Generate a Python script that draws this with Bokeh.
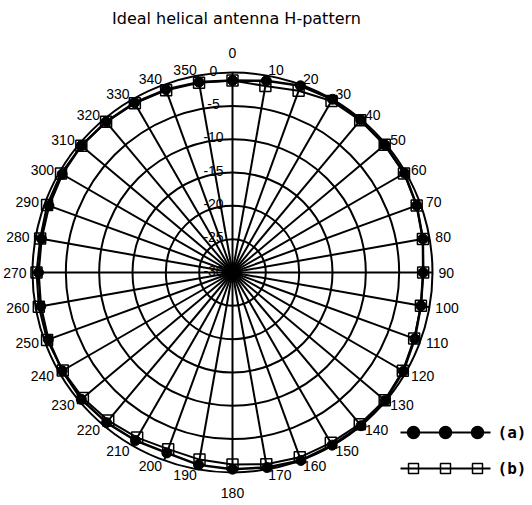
import numpy as np
from bokeh.plotting import figure
from bokeh.models import Range1d
from bokeh.core.properties import value
from bokeh.embed import file_html
from bokeh.resources import INLINE

# ---- data ----
angles = list(range(0, 360, 10))
series_a = [-1.2, -0.8, -0.2, 0.0, -0.1, -0.2, -0.2, -0.6, -1.0, -1.4, -1.3, -0.9,
            -0.4, -0.1, 0.0, -0.1, 0.0, -0.3, -0.5, -0.7, -1.2, -0.9, -0.6, -0.4,
            -0.5, -0.6, -0.8, -0.9, -0.9, -0.7, -0.5, -0.4, -0.5, -0.6, -0.8, -1.0]
series_b = [-1.2, -1.6, -1.0, -0.3, -0.2, -0.2, -0.3, -0.6, -1.0, -1.4, -1.3, -1.0,
            -0.5, -0.2, -0.3, -0.5, -0.5, -0.8, -1.2, -1.5, -1.8, -1.4, -1.0, -0.7,
            -0.6, -0.4, -0.5, -0.6, -0.7, -0.4, -0.3, -0.4, -0.5, -0.7, -0.9, -1.1]
ring_db = [0, -5, -10, -15, -20, -25]
ring_labels = ["0", "-5", "-10", "-15", "-20", "-25", "-30"]
ring_label_db = [0, -5, -10, -15, -20, -25, -30]
angle_labels = [str(a) for a in angles]
title_text = "Ideal helical antenna H-pattern"
legend_labels = ["(a)", "(b)"]

# ---- layout ----
DB_MIN = -30.0
W, H = 530, 503
CX, CY = 232, 272          # centre of polar plot in canvas px
R0 = 200.0                 # px radius of 0 dB ring
k = R0 / (0 - DB_MIN)      # px per data unit

def px(xp, yp):
    """canvas px -> data units"""
    return (xp - CX) / k, (CY - yp) / k

p = figure(width=W, height=H, output_backend="svg", toolbar_location=None,
           x_range=Range1d(-CX / k, (W - CX) / k),
           y_range=Range1d(-(H - CY) / k, CY / k),
           x_axis_type=None, y_axis_type=None, min_border=0)
p.grid.visible = False
p.outline_line_color = None
p.background_fill_color = "white"

rmax = 0 - DB_MIN
# rings
p.circle(x=[0] * len(ring_db), y=[0] * len(ring_db),
         radius=[d - DB_MIN for d in ring_db],
         fill_color=None, line_color="black", line_width=2)
# spokes
th = np.radians(angles)
p.multi_line(xs=[[0, rmax * np.sin(t)] for t in th],
             ys=[[0, rmax * np.cos(t)] for t in th],
             line_color="black", line_width=2)

# radial labels
rl_x = [-19 / k] * len(ring_label_db)
rl_y = [(d - DB_MIN) + 2 / k for d in ring_label_db]
p.text(x=rl_x, y=rl_y, text=ring_labels, text_align="center", text_baseline="middle",
       text_font=value("Liberation Sans"), text_font_size="14px", text_color="black")

# angle labels: anchored just outside the outer ring
groups = {"left": [], "right": [], "top": [], "bottom": []}
for a, t, lab in zip(angles, th, angle_labels):
    if a == 0:
        groups["top"].append(((215 / k) * np.sin(t), (215 / k) * np.cos(t), lab))
    elif a == 180:
        groups["bottom"].append(((215 / k) * np.sin(t), (215 / k) * np.cos(t), lab))
    elif a < 180:
        groups["left"].append(((206 / k) * np.sin(t), (206 / k) * np.cos(t), lab))
    else:
        groups["right"].append(((206 / k) * np.sin(t), (206 / k) * np.cos(t), lab))
styles = {"left": ("left", "middle"), "right": ("right", "middle"),
          "top": ("center", "bottom"), "bottom": ("center", "top")}
for g, items in groups.items():
    al, bl = styles[g]
    p.text(x=[i[0] for i in items], y=[i[1] for i in items], text=[i[2] for i in items],
           text_align=al, text_baseline=bl,
           text_font=value("Liberation Sans"), text_font_size="14px", text_color="black")

# series
def xy(vals):
    r = np.array(vals) - DB_MIN
    return r * np.sin(th), r * np.cos(th)

xa, ya = xy(series_a)
xb, yb = xy(series_b)
p.line(np.append(xb, xb[0]), np.append(yb, yb[0]), line_color="black", line_width=2)
p.line(np.append(xa, xa[0]), np.append(ya, ya[0]), line_color="black", line_width=2.5)
p.scatter(xb, yb, marker="square", size=11, fill_color=None, line_color="black", line_width=1.5)
p.scatter(xa, ya, marker="circle", size=10, fill_color="black", line_color="black")

# title
tx, ty = px(236, 18)
p.text(x=[tx], y=[ty], text=[title_text], text_align="center", text_baseline="middle",
       text_font=value("DejaVu Sans"), text_font_size="16px", text_color="black")

# legend
for i, (lab, mk, fill) in enumerate(zip(legend_labels, ["circle", "square"], ["black", None])):
    yp = 432 + 36 * i
    x0, y0 = px(400, yp)
    x1, _ = px(490, yp)
    p.line([x0, x1], [y0, y0], line_color="black", line_width=2)
    mx = [px(v, yp)[0] for v in (413, 445, 477)]
    p.scatter(mx, [y0] * 3, marker=mk, size=12 if mk == "circle" else 10,
              fill_color=fill, line_color="black", line_width=1.5)
    lx, _ = px(497, yp)
    p.text(x=[lx], y=[y0], text=[lab], text_align="left", text_baseline="middle",
           text_font=value("DejaVu Sans Mono"), text_font_style="bold",
           text_font_size="16px", text_color="black")

open("out.html", "w").write(file_html(p, INLINE))
